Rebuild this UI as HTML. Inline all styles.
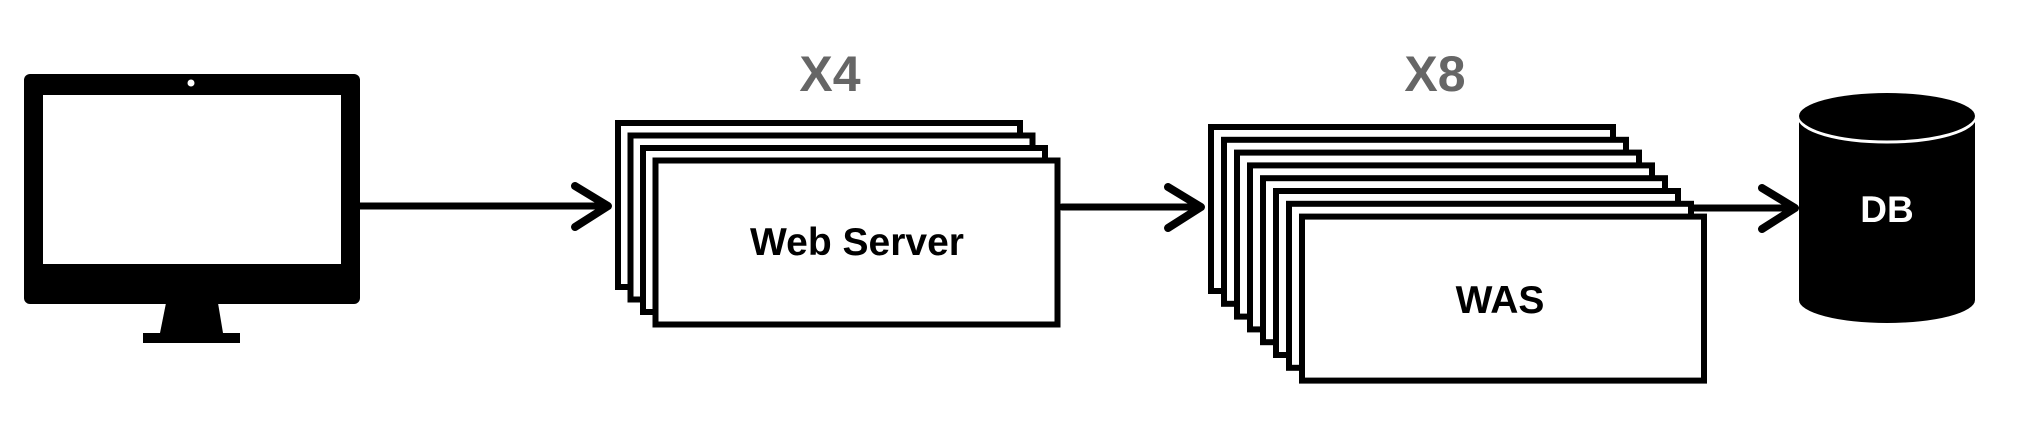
<!DOCTYPE html>
<html><head><meta charset="utf-8"><style>
html,body{margin:0;padding:0;background:#fff;}
svg{display:block;}
</style></head><body>
<svg width="2022" height="440" viewBox="0 0 2022 440" xmlns="http://www.w3.org/2000/svg">
<rect width="2022" height="440" fill="#fff"/>
<!-- monitor -->
<rect x="24" y="74" width="336" height="230" rx="6" fill="#000"/>
<rect x="43" y="95" width="298" height="169" fill="#fff"/>
<circle cx="191" cy="83" r="3.5" fill="#fff"/>
<polygon points="166,303 218,303 223,333 160,333" fill="#000"/>
<rect x="143" y="333" width="97" height="10" fill="#000"/>
<!-- arrows -->
<g stroke="#000" fill="none" stroke-linecap="round">
<line x1="360" y1="206" x2="605" y2="206" stroke-width="7"/>
<polyline points="575,186 608,206 575,227" stroke-width="8" stroke-linejoin="round"/>
<line x1="1062" y1="207" x2="1198" y2="207" stroke-width="7"/>
<polyline points="1168,187 1201,207 1168,228" stroke-width="8" stroke-linejoin="round"/>
<line x1="1688" y1="208" x2="1792" y2="208" stroke-width="7"/>
<polyline points="1762,188 1795,208 1762,229" stroke-width="8" stroke-linejoin="round"/>
</g>
<!-- web server stack -->
<g fill="#fff" stroke="#000" stroke-width="6">
<rect x="618" y="123" width="402" height="164"/>
<rect x="630.5" y="135.5" width="402" height="164"/>
<rect x="643" y="148" width="402" height="164"/>
<rect x="655.5" y="160.5" width="402" height="164"/>
</g>
<text x="857" y="255" font-family="Liberation Sans, sans-serif" font-weight="bold" font-size="39" text-anchor="middle" fill="#000">Web Server</text>
<text x="830" y="91" font-family="Liberation Sans, sans-serif" font-weight="bold" font-size="50" text-anchor="middle" fill="#666">X4</text>
<!-- WAS stack -->
<g fill="#fff" stroke="#000" stroke-width="6">
<rect x="1211" y="127" width="402" height="164"/>
<rect x="1224" y="139.8" width="402" height="164"/>
<rect x="1237" y="152.6" width="402" height="164"/>
<rect x="1250" y="165.4" width="402" height="164"/>
<rect x="1263" y="178.2" width="402" height="164"/>
<rect x="1276" y="191" width="402" height="164"/>
<rect x="1289" y="203.8" width="402" height="164"/>
<rect x="1302" y="216.6" width="402" height="164"/>
</g>
<text x="1500" y="313" font-family="Liberation Sans, sans-serif" font-weight="bold" font-size="39" text-anchor="middle" fill="#000">WAS</text>
<text x="1435" y="91" font-family="Liberation Sans, sans-serif" font-weight="bold" font-size="50" text-anchor="middle" fill="#666">X8</text>
<!-- DB cylinder -->
<rect x="1799" y="117" width="176" height="183" fill="#000"/>
<ellipse cx="1887" cy="300" rx="88" ry="23" fill="#000"/>
<path d="M1799,117 A88,25 0 0 0 1975,117" fill="none" stroke="#fff" stroke-width="3"/>
<ellipse cx="1887" cy="116" rx="88" ry="23" fill="#000"/>
<text x="1887" y="222" font-family="Liberation Sans, sans-serif" font-weight="bold" font-size="37" text-anchor="middle" fill="#fff">DB</text>
</svg>
</body></html>
